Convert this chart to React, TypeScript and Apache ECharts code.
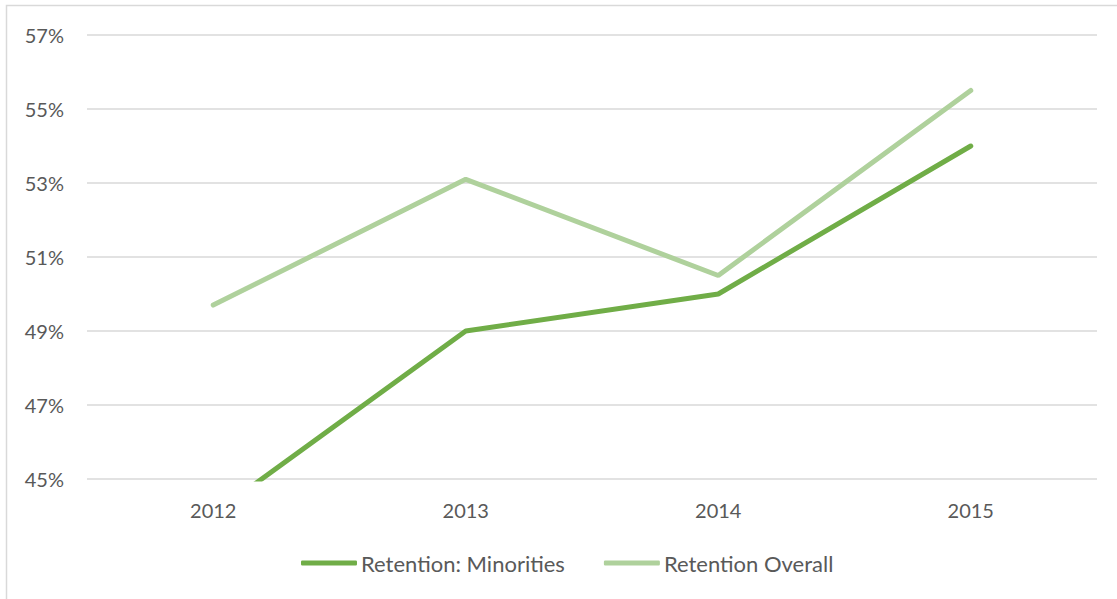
import React, { useEffect, useRef } from "react";
import * as echarts from "echarts";

const years = ["2012", "2013", "2014", "2015"];
const minorities = [0.4405, 0.49, 0.50, 0.54];
const overall = [0.497, 0.531, 0.505, 0.555];
const yMin = 0.45;
const yMax = 0.57;
const yStep = 0.02;

export default function App() {
  const ref = useRef<HTMLDivElement>(null);
  useEffect(() => {
    if (!ref.current) return;
    const chart = echarts.init(ref.current, null, { renderer: "svg" });
    const font = "Lato, 'Open Sans', sans-serif";
    chart.setOption({
      animation: false,
      backgroundColor: "#ffffff",
      grid: { left: 87, right: 20, top: 35, bottom: 120, containLabel: false },
      graphic: [
        {
          type: "rect",
          shape: { x: 6.5, y: 5.5, width: 1120, height: 600 },
          style: { fill: "none", stroke: "#d9d9d9", lineWidth: 1.5 },
          silent: true,
        },
      ],
      xAxis: {
        type: "category",
        data: years,
        boundaryGap: true,
        axisLine: { show: false },
        axisTick: { show: false },
        axisLabel: { color: "#595959", fontSize: 20, fontFamily: font, margin: 21 },
      },
      yAxis: {
        type: "value",
        min: yMin,
        max: yMax,
        interval: yStep,
        axisLine: { show: false },
        axisTick: { show: false },
        splitLine: { lineStyle: { color: "#d9d9d9", width: 1.5 } },
        axisLabel: {
          color: "#595959",
          fontSize: 20,
          fontFamily: font,
          margin: 23,
          formatter: (v: number) => Math.round(v * 100) + "%",
        },
      },
      legend: {
        bottom: 20,
        left: 296,
        icon: "roundRect",
        itemWidth: 56,
        itemHeight: 5,
        itemGap: 39,
        textStyle: { color: "#595959", fontSize: 22, fontFamily: font, padding: [0, 0, 0, -1] },
        data: ["Retention: Minorities", "Retention Overall"],
      },
      series: [
        {
          name: "Retention: Minorities",
          type: "line",
          data: minorities,
          symbol: "none",
          clip: true,
          lineStyle: { color: "#70ad47", width: 5, cap: "round" },
          itemStyle: { color: "#70ad47" },
        },
        {
          name: "Retention Overall",
          type: "line",
          data: overall,
          symbol: "none",
          clip: true,
          lineStyle: { color: "#afd19c", width: 5, cap: "round" },
          itemStyle: { color: "#afd19c" },
        },
      ],
    });
    return () => chart.dispose();
  }, []);
  return (
    <div
      ref={ref}
      style={{ position: "fixed", left: 0, top: 0, width: 1117, height: 599 }}
    />
  );
}
